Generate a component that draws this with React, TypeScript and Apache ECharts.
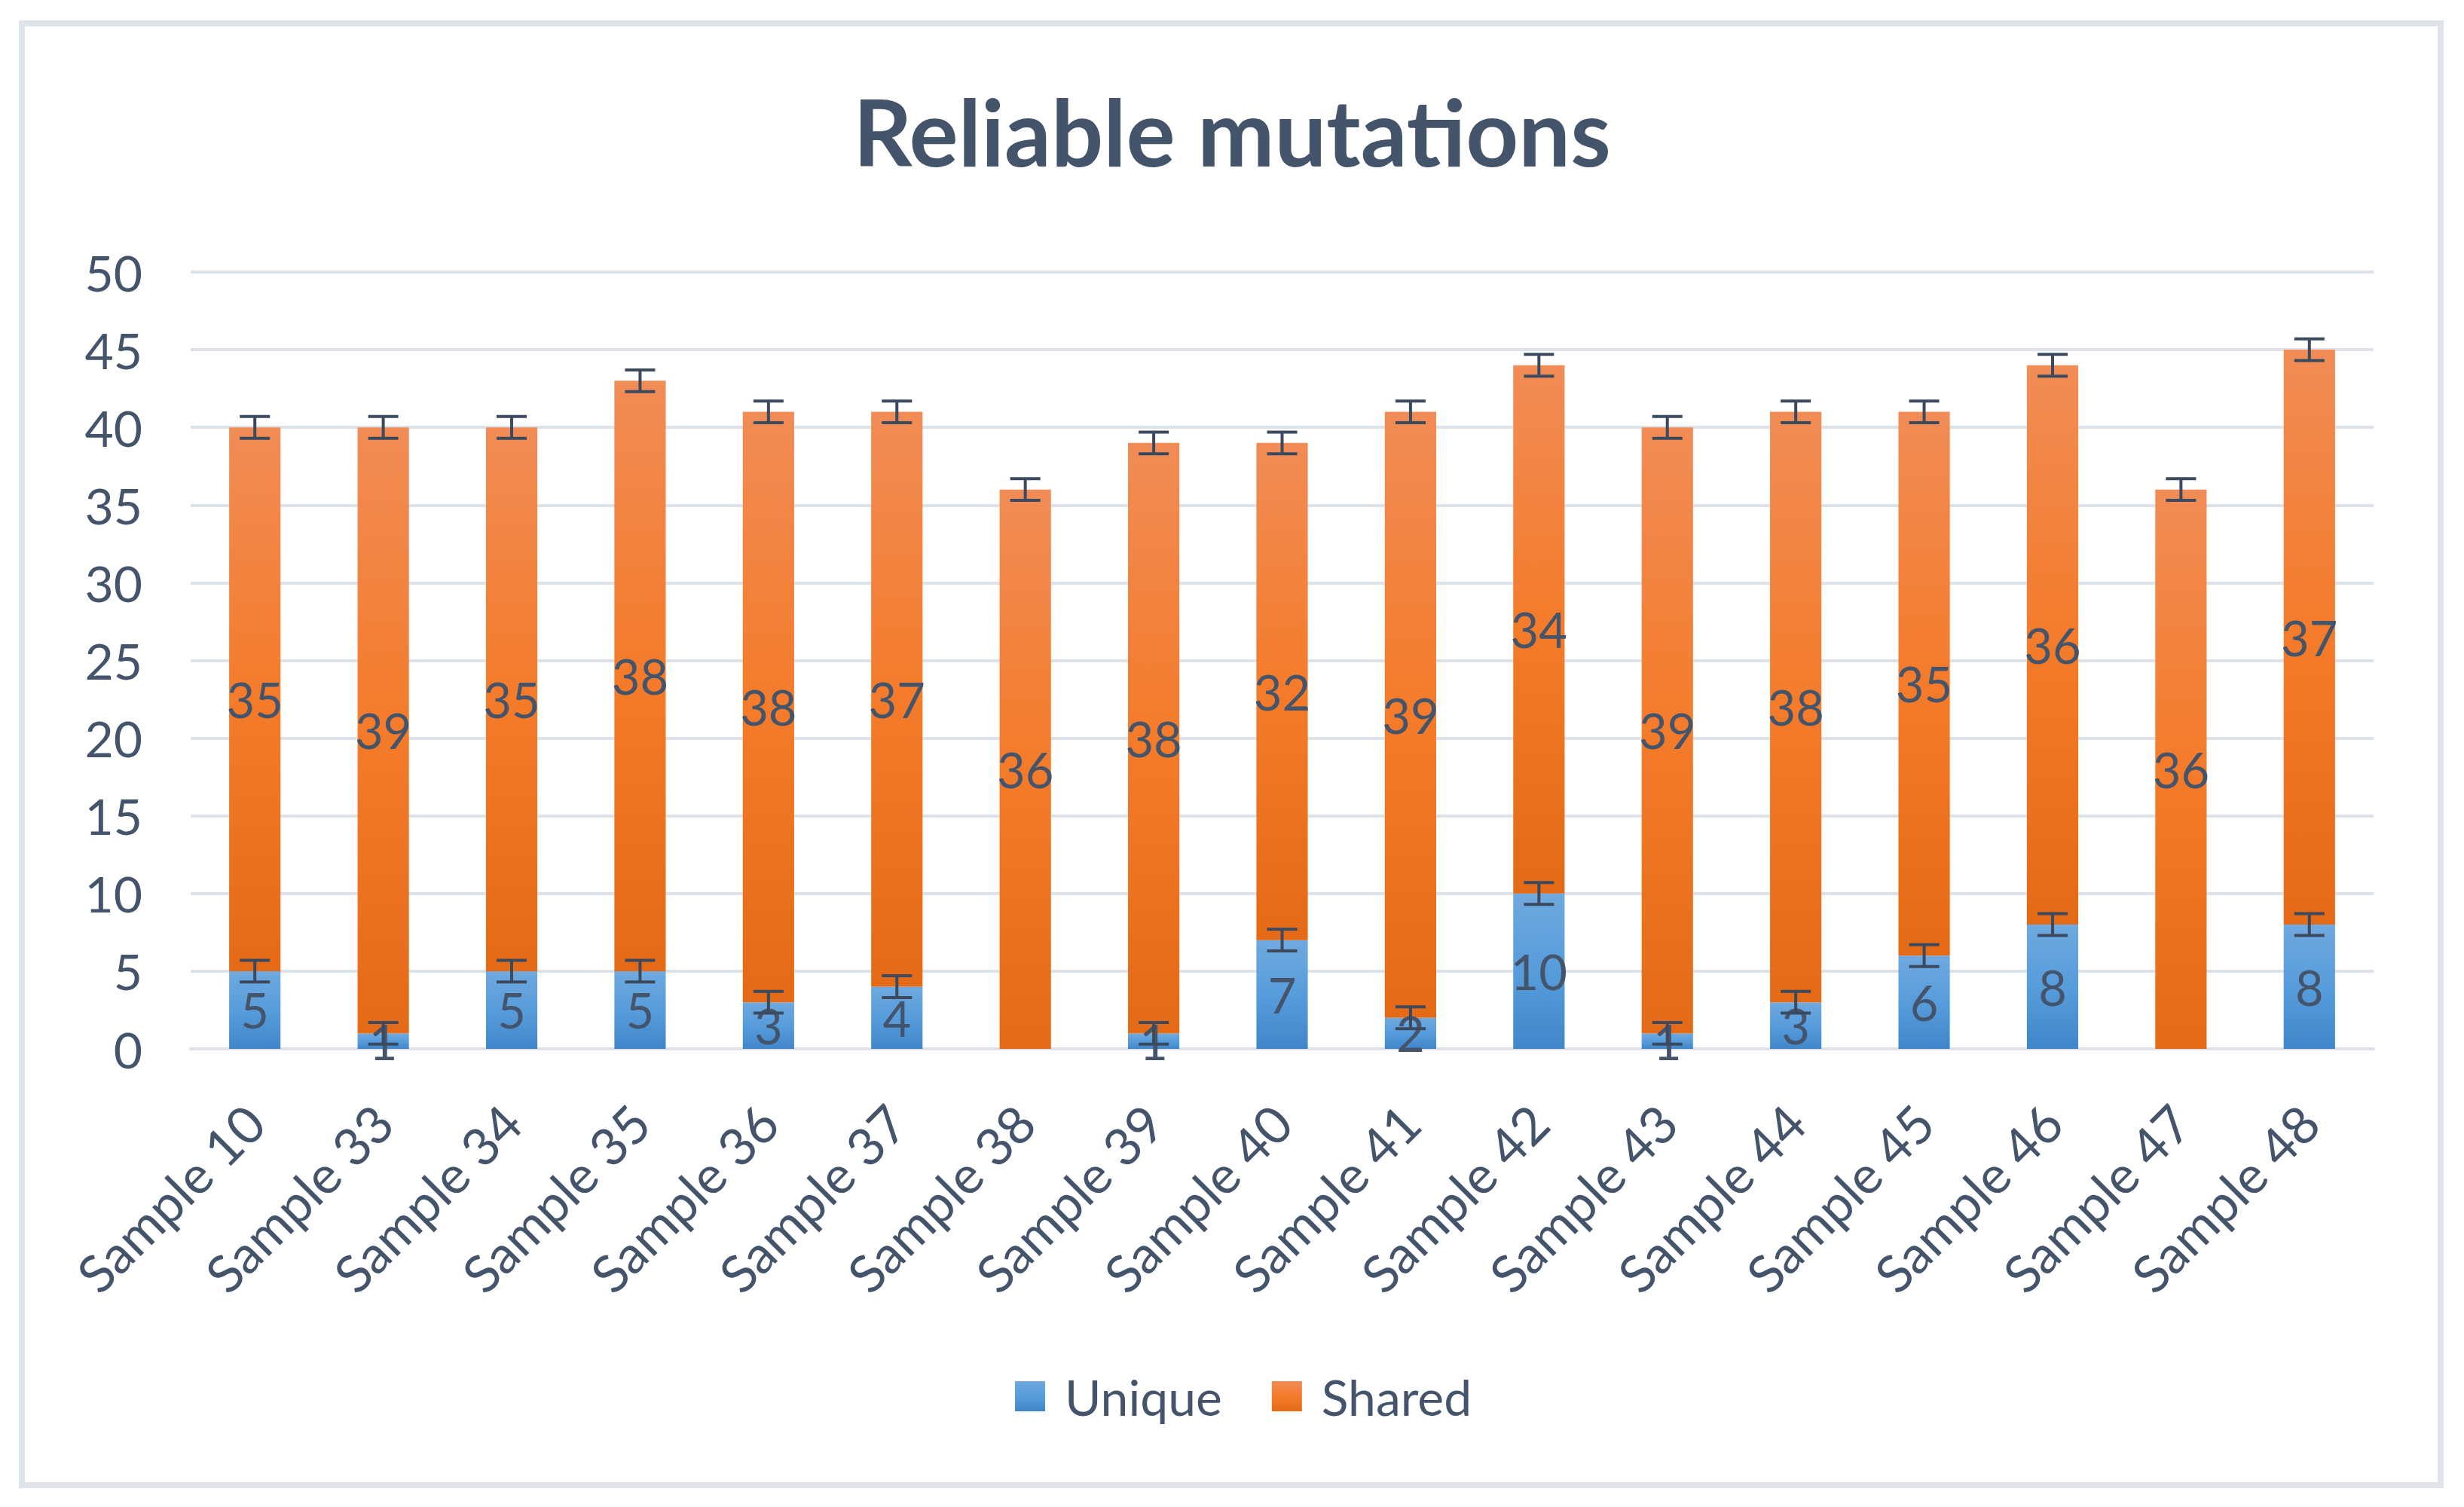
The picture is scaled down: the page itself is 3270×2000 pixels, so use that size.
import React, { useEffect, useRef } from "react";
import * as echarts from "echarts";

const categories = [
  "Sample 10", "Sample 33", "Sample 34", "Sample 35", "Sample 36", "Sample 37",
  "Sample 38", "Sample 39", "Sample 40", "Sample 41", "Sample 42", "Sample 43",
  "Sample 44", "Sample 45", "Sample 46", "Sample 47", "Sample 48",
];
const uniqueValues = [5, 1, 5, 5, 3, 4, 0, 1, 7, 2, 10, 1, 3, 6, 8, 0, 8];
const sharedValues = [35, 39, 35, 38, 38, 37, 36, 38, 32, 39, 34, 39, 38, 35, 36, 36, 37];
const uniqueErrors = [0.7, 0.7, 0.7, 0.7, 0.7, 0.7, null, 0.7, 0.7, 0.7, 0.7, 0.7, 0.7, 0.7, 0.7, null, 0.7];
const sharedErrors = [0.7, 0.7, 0.7, 0.7, 0.7, 0.7, 0.7, 0.7, 0.7, 0.7, 0.7, 0.7, 0.7, 0.7, 0.7, 0.7, 0.7];
const yTicks = { min: 0, max: 50, interval: 5 };

const FONT = "Lato";
const TEXT = "#44546a";
const ERR = "#3b4a5e";

export default function App() {
  const ref = useRef<HTMLDivElement>(null);
  useEffect(() => {
    document.body.style.margin = "0";
    const chart = echarts.init(ref.current!, null, { renderer: "svg" });

    const blue = new echarts.graphic.LinearGradient(0, 0, 0, 1, [
      { offset: 0, color: "#6fa9df" },
      { offset: 0.5, color: "#579cdb" },
      { offset: 1, color: "#4186c9" },
    ]);
    const orange = new echarts.graphic.LinearGradient(0, 0, 0, 1, [
      { offset: 0, color: "#f18c56" },
      { offset: 0.5, color: "#f47b2a" },
      { offset: 1, color: "#e46a16" },
    ]);

    const errData: any[] = [];
    categories.forEach((_, i) => {
      if (uniqueErrors[i] != null) errData.push([i, uniqueValues[i], uniqueErrors[i]]);
      if (sharedErrors[i] != null) errData.push([i, uniqueValues[i] + sharedValues[i], sharedErrors[i]]);
    });

    const labelCfg = {
      show: true,
      position: "inside",
      fontFamily: FONT,
      fontSize: 65,
      color: TEXT,
      formatter: (p: any) => (p.value === 0 ? "" : String(p.value)),
    };

    chart.setOption({
      animation: false,
      backgroundColor: "#ffffff",
      title: {
        text: "Reliable mutations",
        left: "center",
        top: 108,
        textStyle: { fontFamily: FONT, fontSize: 122, fontWeight: "bold", color: TEXT },
      },
      graphic: [
        {
          type: "rect",
          shape: { x: 29, y: 31, width: 3210, height: 1940 },
          style: { fill: "none", stroke: "#dfe3ea", lineWidth: 8 },
          silent: true,
        },
      ],
      legend: {
        data: ["Unique", "Shared"],
        left: 1342,
        top: 1815,
        itemWidth: 40,
        itemHeight: 40,
        itemGap: 66,
        icon: "rect",
        textStyle: { fontFamily: FONT, fontSize: 66, color: TEXT, padding: [0, 0, 0, 21] },
      },
      grid: { left: 253, right: 120, top: 361, bottom: 608, containLabel: false },
      xAxis: {
        type: "category",
        data: categories,
        axisLine: { show: true, lineStyle: { color: "#dde2ea", width: 4 } },
        axisTick: { show: false },
        axisLabel: {
          rotate: 45,
          margin: 86,
          interval: 0,
          fontFamily: FONT,
          fontSize: 69,
          color: TEXT,
        },
      },
      yAxis: {
        type: "value",
        min: yTicks.min,
        max: yTicks.max,
        interval: yTicks.interval,
        axisLine: { show: false },
        axisTick: { show: false },
        splitLine: { lineStyle: { color: "#dde2ea", width: 4 } },
        axisLabel: { fontFamily: FONT, fontSize: 66, color: TEXT, margin: 64 },
      },
      series: [
        {
          name: "Unique",
          type: "bar",
          stack: "total",
          barWidth: "40%",
          data: uniqueValues,
          itemStyle: { color: blue },
          label: labelCfg,
        },
        {
          name: "Shared",
          type: "bar",
          stack: "total",
          barWidth: "40%",
          data: sharedValues,
          itemStyle: { color: orange },
          label: labelCfg,
        },
        {
          name: "errors",
          type: "custom",
          z: 10,
          data: errData,
          encode: { x: 0, y: 1 },
          renderItem: (params: any, api: any) => {
            const x = api.value(0);
            const top = api.value(1);
            const err = api.value(2);
            const hi = api.coord([x, top + err]);
            const lo = api.coord([x, top - err]);
            const cx = hi[0];
            const w = 20;
            const style = { stroke: ERR, lineWidth: 4 };
            return {
              type: "group",
              children: [
                { type: "line", shape: { x1: cx, y1: hi[1], x2: cx, y2: lo[1] }, style },
                { type: "line", shape: { x1: cx - w, y1: hi[1], x2: cx + w, y2: hi[1] }, style },
                { type: "line", shape: { x1: cx - w, y1: lo[1], x2: cx + w, y2: lo[1] }, style },
              ],
            };
          },
        },
      ],
    });
    return () => chart.dispose();
  }, []);
  return (
    <div
      ref={ref}
      style={{ position: "fixed", left: 0, top: 0, width: 3270, height: 2000 }}
    />
  );
}
